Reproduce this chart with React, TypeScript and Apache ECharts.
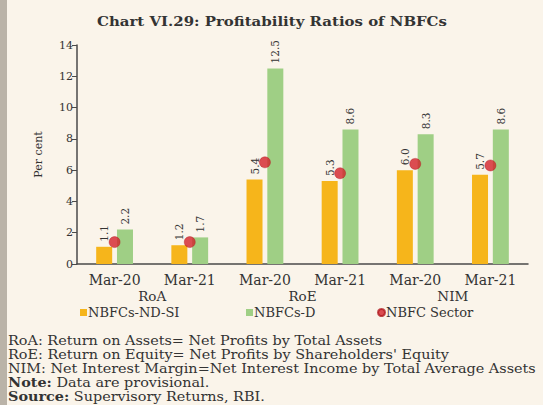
import React, { useEffect, useRef } from "react";
import * as echarts from "echarts";

const categories = ["Mar-20", "Mar-21", "Mar-20", "Mar-21", "Mar-20", "Mar-21"];
const groups = ["RoA", "RoE", "NIM"];
const ndsi = [1.1, 1.2, 5.4, 5.3, 6.0, 5.7];
const dep = [2.2, 1.7, 12.5, 8.6, 8.3, 8.6];
const sector = [1.4, 1.4, 6.5, 5.8, 6.4, 6.3];
const yTicks = { min: 0, max: 14, interval: 2 };
const titleText = "Chart VI.29: Profitability Ratios of NBFCs";
const notes = [
  "RoA: Return on Assets= Net Profits by Total Assets",
  "RoE: Return on Equity= Net Profits by Shareholders' Equity",
  "NIM: Net Interest Margin=Net Interest Income by Total Average Assets",
  "{b|Note:} Data are provisional.",
  "{b|Source:} Supervisory Returns, RBI.",
];

const FONT = "DejaVu Serif";
const TXT = "#333333";

export default function App() {
  const ref = useRef<HTMLDivElement>(null);
  useEffect(() => {
    document.body.style.margin = "0";
    const chart = echarts.init(ref.current!, null, { renderer: "svg" });
    const barLabel = {
      show: true,
      position: "top",
      rotate: 90,
      align: "left",
      verticalAlign: "middle",
      distance: 5,
      fontFamily: FONT,
      fontSize: 10.5,
      color: TXT,
      formatter: (p: any) => Number(p.value).toFixed(1),
    };
    const legendBase = {
      top: 306,
      padding: 0,
      itemWidth: 7,
      itemHeight: 7,
      textStyle: { fontFamily: FONT, fontSize: 13, color: TXT, padding: [0, 0, 0, -4] },
    };
    chart.setOption({
      animation: false,
      backgroundColor: "#faf4ea",
      grid: { left: 77, right: 15, top: 45, bottom: 141 },
      legend: [
        { ...legendBase, left: 80, data: [{ name: "NBFCs-ND-SI", icon: "rect" }] },
        { ...legendBase, left: 246, data: [{ name: "NBFCs-D", icon: "rect" }] },
        { ...legendBase, left: 377, data: [{ name: "NBFC Sector", icon: "circle" }] },
      ],
      xAxis: [
        {
          type: "category",
          data: categories,
          axisLine: { lineStyle: { color: "#4a4a4a", width: 1.5 } },
          axisTick: { length: 4, lineStyle: { color: "#4a4a4a" } },
          axisLabel: { fontFamily: FONT, fontSize: 14, color: TXT, margin: 9 },
        },
        {
          type: "category",
          data: groups,
          position: "bottom",
          axisLine: { show: false },
          axisTick: { length: 41, lineStyle: { color: "#4a4a4a", width: 1.5 } },
          axisLabel: { fontFamily: FONT, fontSize: 13.5, color: TXT, margin: 25 },
        },
      ],
      yAxis: {
        type: "value",
        min: yTicks.min,
        max: yTicks.max,
        interval: yTicks.interval,
        name: "Per cent",
        nameLocation: "middle",
        nameGap: 33,
        nameTextStyle: { fontFamily: FONT, fontSize: 11, color: TXT },
        axisLine: { show: true, lineStyle: { color: "#4a4a4a", width: 1.5 } },
        axisTick: { show: true, length: 5, lineStyle: { color: "#4a4a4a" } },
        axisLabel: { fontFamily: FONT, fontSize: 11, color: TXT, margin: 4 },
        splitLine: { show: false },
      },
      series: [
        {
          name: "NBFCs-ND-SI",
          type: "bar",
          data: ndsi,
          barWidth: 16,
          barGap: "30%",
          itemStyle: { color: "#f6b51b" },
          label: barLabel,
        },
        {
          name: "NBFCs-D",
          type: "bar",
          data: dep,
          barWidth: 16,
          barGap: "30%",
          itemStyle: { color: "#9fcf85" },
          label: barLabel,
        },
        {
          name: "NBFC Sector",
          type: "scatter",
          data: sector,
          symbolSize: 11,
          z: 5,
          itemStyle: { color: "#d3222b", borderColor: "#b01a20", borderWidth: 0.5 },
        },
      ],
      graphic: [
        { type: "rect", left: 0, top: 0, shape: { width: 7, height: 405 }, style: { fill: "#bab3a8" } },
        {
          type: "text",
          x: 272,
          y: 21,
          scaleX: 1.15,
          style: {
            text: titleText,
            font: `bold 13px "${FONT}"`,
            fill: "#333",
            textAlign: "center",
            textVerticalAlign: "middle",
          },
        },
        ...notes.map((t, i) => ({
          type: "text",
          x: 8,
          y: 341 + i * 14,
          scaleX: 1.2,
          style: {
            text: t,
            font: `12px "${FONT}"`,
            fill: TXT,
            textVerticalAlign: "middle",
            rich: { b: { fontWeight: "bold", fontFamily: FONT, fontSize: 12, fill: "#333" } },
          },
        })),
      ],
    });
    return () => chart.dispose();
  }, []);
  return <div ref={ref} style={{ width: 543, height: 405 }} />;
}
